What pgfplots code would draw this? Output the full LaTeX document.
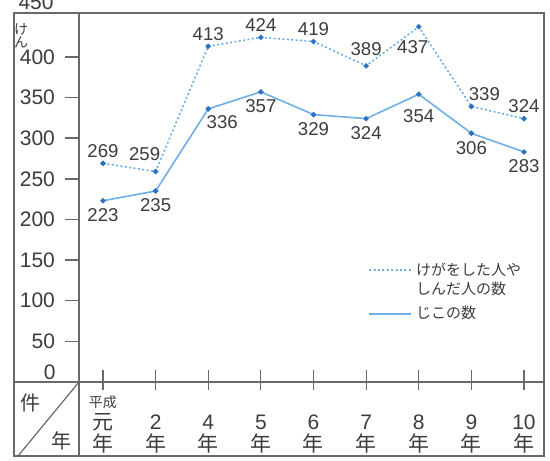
\documentclass[border=0pt]{standalone}
\usepackage{pgfplots}
\pgfplotsset{compat=1.18}
\usepackage{pgfplotstable}
\usepackage{fontspec}
\setmainfont{Liberation Sans}
\newfontfamily\jp{Noto Sans CJK JP}

\definecolor{ink}{RGB}{60,60,60}
\definecolor{rule}{RGB}{105,105,105}
\definecolor{lineblue}{RGB}{110,175,230}
\definecolor{dotblue}{RGB}{45,115,195}
\definecolor{titleblue}{RGB}{35,145,225}

% x: 0 = 平成元年, 1 = 2年, 2 = 4年 ... 8 = 10年
\pgfplotstableread{
x  y
0  269
1  259
2  413
3  424
4  419
5  389
6  437
7  339
8  324
}\higai

\pgfplotstableread{
x  y
0  223
1  235
2  336
3  357
4  329
5  324
6  354
7  306
8  283
}\jiko

\pgfplotsset{
  legend line up/.style={legend image code/.code={\draw[##1] (0pt,4.75pt) -- (21pt,4.75pt);}},
  legend line/.style={legend image code/.code={\draw[##1] (0pt,0pt) -- (21pt,0pt);}},
}

\begin{document}
\begin{tikzpicture}
\useasboundingbox (0,0) rectangle (275pt,230pt);
\begin{axis}[
  at={(39.5pt,39pt)}, anchor=south west,
  scale only axis, width=232.5pt, height=184.5pt,
  xmin=-0.456, xmax=8.38, ymin=0, ymax=454,
  axis line style={draw=rule, line width=0.7pt},
  clip=false,
  xtick={0,...,8},
  xtick style={draw=none},
  xticklabels={
    {{\fontsize{7}{7}\selectfont\jp 平成}\\{\jp 元}\\{\jp 年}},
    {2\\{\jp 年}},{4\\{\jp 年}},{5\\{\jp 年}},{6\\{\jp 年}},
    {7\\{\jp 年}},{8\\{\jp 年}},{9\\{\jp 年}},{10\\{\jp 年}}},
  xticklabel style={anchor=south, yshift=-35.9pt, align=center,
    inner sep=0pt, text=ink, font=\fontsize{10.5}{11}\selectfont},
  ytick={50,100,...,400},
  ytick align=outside, ytick pos=left, major tick length=7pt,
  ytick style={draw=rule, line width=0.7pt},
  yticklabel style={text=ink, xshift=-1.5pt, font=\fontsize{10.5}{12}\selectfont},
  /pgf/number format/assume math mode=true,
  nodes near coords,
  every node near coord/.append style={
    text=ink, font=\fontsize{9.3}{10}\selectfont, inner sep=2.5pt},
  legend style={at={(0.6215,0.336)}, anchor=north west, draw=none, fill=none,
    inner sep=0pt, row sep=0.5pt, text=ink,
    font=\jp\fontsize{7.5}{9.5}\selectfont, nodes={align=left}},
  legend cell align=left,
]
\addplot[draw=lineblue, line width=0.8pt, dash pattern=on 1pt off 1.2pt,
  mark=*, mark size=0.9pt, mark options={solid, fill=dotblue, draw=dotblue},
  nodes near coords align={above},
  coordinate style/.condition={x==1}{xshift=-5.5pt, yshift=2.5pt},
  coordinate style/.condition={x==5}{yshift=2pt},
  coordinate style/.condition={x==6}{anchor=north, xshift=-3pt, yshift=-4pt},
  coordinate style/.condition={x==7}{xshift=6.5pt},
  legend line up]
  table[x=x, y=y] {\higai};
\addlegendentry{けがをした人や\\しんだ人の数}
\addplot[draw=lineblue, line width=0.8pt,
  mark=*, mark size=0.9pt, mark options={fill=dotblue, draw=dotblue},
  nodes near coords align={below},
  every node near coord/.append style={inner sep=3.5pt},
  coordinate style/.condition={x==2}{xshift=7pt, yshift=0.5pt},
  coordinate style/.condition={x==6}{yshift=-3.5pt},
  legend line]
  table[x=x, y=y] {\jiko};
\addlegendentry{じこの数}
\pgfplotsinvokeforeach{0,...,8}{
  \draw[rule, line width=0.6pt] (axis cs:#1,0) ++(0pt,-4pt) -- ++(0pt,10pt);
}
\end{axis}
% table frame round the chart
\draw[rule, line width=0.7pt] (7pt,2pt) rectangle (272pt,223.5pt);
\draw[rule, line width=0.7pt] (7pt,39pt) -- (39.5pt,39pt);
\draw[rule, line width=0.7pt] (39.5pt,2pt) -- (39.5pt,39pt);
\draw[rule, line width=0.6pt] (39.5pt,39pt) -- (9pt,2pt);
\node[text=ink, font=\jp\fontsize{10}{10}\selectfont] at (15pt,28.75pt) {件};
\node[text=ink, font=\jp\fontsize{10}{10}\selectfont] at (30.5pt,9.5pt) {年};
\node[text=ink, anchor=east, inner sep=0pt, font=\fontsize{10.5}{12}\selectfont] at (28pt,44pt) {0};
\node[text=ink, anchor=base east, inner sep=0pt, font=\fontsize{10.5}{12}\selectfont] at (27pt,225pt) {450};
\node[text=ink, align=center, inner sep=0pt, font=\jp\fontsize{7}{6.5}\selectfont] at (10.5pt,212pt) {け\\ん};
\node[text=titleblue, anchor=base west, inner sep=0pt, font=\jp\fontsize{11.5}{12}\selectfont] at (49pt,230.5pt) {●交通じこの数};
\end{tikzpicture}
\end{document}
